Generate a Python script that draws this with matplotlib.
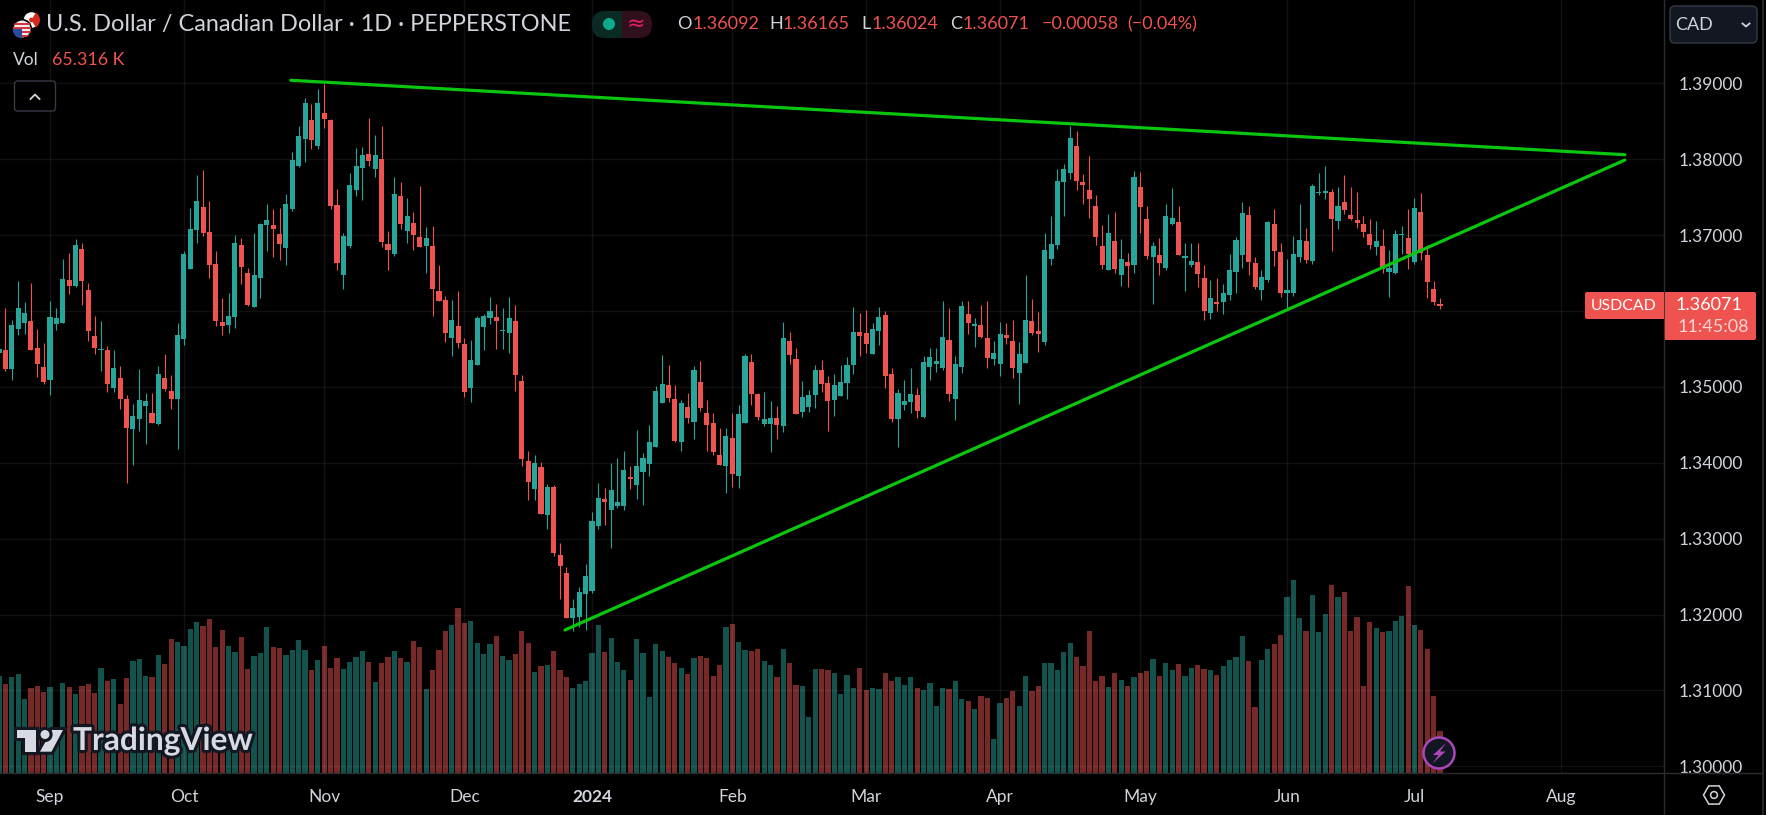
import numpy as np
import matplotlib
matplotlib.use("Agg")
import matplotlib.pyplot as plt
from matplotlib.patches import Circle, FancyBboxPatch, Polygon, Rectangle, Wedge
import matplotlib.patheffects as pe

plt.rcParams["font.family"] = ["Lato", "DejaVu Sans"]

# -------- Daily candles, USDCAD, prices in 1e-5 --------
opens = [
    135443,135491,135241,135767,135846,135872,135517,135267,135096,135833,
    135846,136412,136333,136820,136280,135675,135482,135491,134991,135122,
    134846,134451,134583,134754,134649,134517,135122,134951,134846,135636,
    136557,137070,137372,137043,136622,135859,135820,135925,136872,136504,
    136057,136438,137136,137136,137017,136833,137346,137912,138267,138517,
    138175,138609,138517,137399,136478,136859,137596,137886,138070,137872,
    138004,136886,136754,137517,137057,137162,136978,136859,136859,136267,
    136149,135649,135807,135570,134991,135293,135793,135912,135925,135732,
    135714,135872,135083,134017,133649,133938,133307,133675,132780,132543,
    131951,131964,132267,132307,133162,133517,133372,133425,133425,133807,
    133701,133872,133978,134201,134793,135030,134846,134267,134741,134543,
    135070,134649,134530,134096,133951,134320,133820,134530,135333,134912,
    134517,134517,134596,134478,135609,135372,134675,134741,134899,135228,
    135057,134833,134886,135057,135293,135728,135714,135438,135741,135951,
    135175,134583,134767,134807,134899,134609,135267,135307,135254,135622,
    134846,135267,135964,135807,135820,135649,135372,135307,135688,135609,
    135188,135320,135872,135741,135597,136689,136873,137702,137820,138175,
    137702,137597,137386,136860,136544,136925,136478,136649,136610,137636,
    137215,136715,136741,136570,137149,137175,136702,136610,136649,136439,
    135978,136110,136123,136215,136518,136741,137268,136636,136281,136412,
    137149,136781,136241,136241,136715,136925,136662,137548,137561,137570,
    137189,137439,137268,137202,137149,137018,136847,136860,136518,136504,
    136996,136965,136649,137307,136741,136294,136092,
]
closes = [
    135500,135241,135820,136043,135978,135491,135307,135070,135925,135912,
    136425,136333,136872,136399,135741,135517,135491,135043,135254,134846,
    134464,134622,134833,134820,134530,135175,134978,134846,135688,136754,
    137083,137451,137030,136609,135872,135807,135938,136899,136583,136083,
    136478,137149,137201,137083,136886,137412,137991,138307,138741,138254,
    138741,138530,137386,136636,136991,137662,137912,138057,137978,138057,
    136912,136807,137543,137149,137254,137004,136846,136964,136293,136136,
    135714,135886,135583,134938,135359,135912,135938,136004,135872,135741,
    135912,135162,134043,133741,133991,133320,133675,132807,132636,131951,
    132083,132293,132504,133228,133530,133478,133636,133478,133899,133780,
    133951,134057,134267,134951,135043,134859,134293,134793,134596,135228,
    134728,134504,134136,133964,134346,133846,134636,135412,134912,134609,
    134583,134596,134504,135649,135425,134636,134872,134899,135228,135043,
    134820,135030,135070,135293,135728,135675,135570,135767,135925,135149,
    134570,134925,134820,134912,134688,135333,135399,135346,135662,134912,
    135307,136070,135846,135833,135662,135386,135451,135701,135649,135254,
    135438,135886,135714,135701,136807,136886,137715,137873,138281,137715,
    137662,137478,136978,136610,137031,136557,136689,136597,137768,137373,
    136728,136860,136636,137254,137228,136741,136715,136662,136491,136004,
    136175,136097,136241,136544,136939,137294,136649,136320,136452,137175,
    136794,136241,136281,136754,136939,136675,137649,137566,137570,137215,
    137386,137333,137215,137162,137044,136873,136925,136557,136570,137018,
    137004,136754,137360,136768,136386,136123,136071,
]
highs = [
    135565,136043,135886,136394,136122,136372,135767,135583,136136,136043,
    136688,136767,136951,136899,136372,135938,135872,135543,135491,135280,
    134899,134780,135241,134925,134925,135280,135438,135162,135846,136793,
    137359,137798,137859,137451,136793,136175,136241,137004,136964,136570,
    137030,137162,137412,137346,137359,137543,138096,138438,138807,138728,
    138925,138986,138526,137609,137030,137820,138153,138162,138543,138320,
    138438,137057,137767,137701,137491,137307,137649,137109,137122,136609,
    136201,136149,136267,135649,135622,135938,135964,136188,136096,136043,
    136188,136083,135162,134149,134096,134004,133714,133701,132938,132622,
    132201,132359,132662,133346,133728,133662,133991,134057,134149,133951,
    134438,134122,134491,135017,135425,135293,135030,134833,134925,135280,
    135346,134833,134649,134464,134464,134649,134767,135438,135438,134925,
    134938,134820,134754,135859,135728,135517,135083,134964,135293,135359,
    135149,135175,135293,135399,136057,135978,136017,135846,136057,136004,
    135254,134978,135096,135254,134991,135412,135517,135517,136136,136043,
    135412,136136,136136,135912,136083,136136,135609,135859,135846,135886,
    135596,136478,136162,135991,137031,137254,137873,137939,138439,138373,
    137807,138044,137531,137136,137281,137307,136952,136768,137847,137833,
    137386,136912,136965,137412,137623,137386,136899,136899,136899,136610,
    136412,136439,136360,136754,136978,137439,137386,136715,136544,137189,
    137347,136899,136689,136991,137412,137097,137675,137820,137912,137610,
    137636,137794,137636,137570,137254,137215,137189,137083,136807,137070,
    137123,137347,137491,137557,136873,136399,136165,
]
lows = [
    135412,135206,135096,135688,135701,135491,135136,135043,134899,135754,
    135846,136228,136320,136083,135609,135438,135214,134938,134938,134714,
    133728,133964,134412,134241,134530,134491,134951,134714,134175,135557,
    136557,136899,136991,136438,135807,135688,135714,135780,136359,136070,
    136057,136175,136793,136706,136675,136609,137320,137899,137964,138136,
    138136,138412,137350,136543,136293,136833,137517,137464,137912,137767,
    136846,136543,136728,137083,136899,136807,136846,136504,135938,136136,
    135596,135412,135517,134872,134807,135293,135491,135833,135504,135504,
    135451,134951,133951,133504,133504,133320,133122,132767,132201,131951,
    131780,131833,131793,132280,133122,133175,132872,133399,133372,133649,
    133517,133438,133820,134201,134793,134807,134280,134149,134530,134307,
    134688,134149,134096,133964,133596,133675,133662,134530,134767,134557,
    134478,134136,134307,134399,135307,134636,134609,134675,134728,134938,
    134412,134622,134886,134846,135175,135412,135451,135438,135557,134991,
    134543,134201,134701,134662,134596,134596,135096,135201,135228,134820,
    134557,135188,135701,135530,135649,135254,135293,135149,135570,135122,
    134780,135320,135688,135464,135557,136610,136820,137254,137741,137597,
    137412,137228,136873,136557,136544,136504,136333,136320,136504,137031,
    136689,136097,136478,136544,137136,136741,136268,136583,136320,135886,
    135899,136004,135965,136149,136241,136570,136478,136294,136149,136386,
    136597,136189,136018,136202,136649,136636,136623,137531,137478,136794,
    137083,137281,137202,137097,136978,136820,136741,136504,136189,136491,
    136754,136557,136623,136675,136175,136083,136024,
]

# -------- Volume in thousands, same bars --------
volumes = [
    151,138,149,154,115,132,135,126,134,51,
    140,134,123,135,138,124,163,143,146,107,
    148,174,177,151,149,183,169,208,204,197,
    224,235,228,239,196,222,197,188,211,162,
    182,186,227,196,194,183,191,207,191,160,
    176,197,163,179,162,172,180,190,172,141,
    171,180,190,179,172,205,196,131,160,191,
    221,230,256,233,236,202,185,200,213,182,
    176,185,221,202,157,166,168,190,160,150,
    132,138,143,186,230,188,210,172,160,145,
    208,186,118,200,190,180,171,163,154,179,
    182,179,151,168,227,232,204,191,190,193,
    174,168,149,193,171,137,135,87,162,162,
    160,155,123,152,132,163,129,132,131,155,
    143,149,137,149,132,129,140,104,132,131,
    143,115,112,99,120,117,53,109,117,127,
    104,151,127,135,171,171,160,188,202,180,
    166,221,143,151,134,155,145,135,149,155,
    159,177,151,171,160,169,151,163,168,162,
    160,152,166,176,180,213,174,103,176,193,
    200,214,273,300,241,221,277,219,247,292,
    273,281,221,242,135,235,225,219,221,236,
    244,291,230,222,193,120,65.316,
]

# -------- Axis labels and drawn trend lines --------
price_ticks = [1.30, 1.31, 1.32, 1.33, 1.34, 1.35, 1.36, 1.37, 1.38, 1.39]
# the 1.36000 label is hidden behind the last price tag in the chart
price_tick_labels = ["1.30000", "1.31000", "1.32000", "1.33000", "1.34000", "1.35000", "",
                     "1.37000", "1.38000", "1.39000"]
month_labels = ["Sep", "Oct", "Nov", "Dec", "2024", "Feb", "Mar", "Apr", "May", "Jun", "Jul", "Aug"]
month_bars = [8, 29, 51, 73, 93, 115, 136, 157, 179, 202, 222, 245]
upper_trend_bars = [45.76, 255.0]
upper_trend_prices = [1.3904, 1.38059]
lower_trend_bars = [88.76, 255.0]
lower_trend_prices = [1.31796, 1.37989]

UP = "#26a69a"
DOWN = "#ef5350"
TEXT = "#d1d4dc"
GREEN = "#0bc60f"
FRAME = "#2a2c31"
W, H = 1766, 815
PANE_R, PANE_B = 1664.3, 773.0

fig = plt.figure(figsize=(W / 100, H / 100), dpi=100, facecolor="#000000")
pane = [0, 1 - PANE_B / H, PANE_R / W, PANE_B / H]

bars = np.arange(len(opens))
o = np.array(opens) / 1e5
c = np.array(closes) / 1e5
hi = np.array(highs) / 1e5
lo = np.array(lows) / 1e5
is_up = c >= o
colors = np.where(is_up, UP, DOWN)

# -------- Volume pane (underneath) --------
ax_vol = fig.add_axes(pane, facecolor="#000000", zorder=1)
ax_vol.bar(bars, volumes, width=0.82, color=colors, alpha=0.5, linewidth=0)
ax_vol.set_ylim(0, PANE_B * 1.555)
ax_vol.set_xticks([])
ax_vol.set_yticks([])

# -------- Price pane --------
ax = fig.add_axes(pane, facecolor="none", zorder=2)
wicks = ax.vlines(bars, lo, hi, colors=colors, linewidth=0.8, zorder=3)
wicks.set_snap(True)
ax.bar(bars, np.maximum(np.abs(c - o), 0.00016), bottom=np.minimum(o, c), width=0.8,
       color=colors, linewidth=0, zorder=4)
ax.plot(upper_trend_bars, upper_trend_prices, color=GREEN, linewidth=2.3, zorder=5, solid_capstyle="round")
ax.plot(lower_trend_bars, lower_trend_prices, color=GREEN, linewidth=2.3, zorder=5, solid_capstyle="round")

for a in (ax, ax_vol):
    a.set_xlim(1 - 5.4 / 6.376, 1 + (PANE_R - 5.4) / 6.376)
ax.set_ylim(1.39 - (PANE_B - 83.3) / 7589, 1.39 + 83.3 / 7589)

ax.set_yticks(price_ticks)
ax.set_yticklabels(price_tick_labels)
ax.yaxis.tick_right()
ax.set_xticks(month_bars)
ax.set_xticklabels(month_labels)
ax.grid(True, color="#ffffff", alpha=0.07, linewidth=1.0, zorder=0)
ax.set_axisbelow(True)
ax.tick_params(axis="both", length=0, colors=TEXT, labelsize=12.5)
ax.tick_params(axis="y", pad=10)
ax.tick_params(axis="x", pad=11.5)
for label_obj in ax.get_xticklabels():
    if label_obj.get_text() == "2024":
        label_obj.set_fontweight("bold")
for a in (ax, ax_vol):
    for s in a.spines.values():
        s.set_visible(False)

# -------- Chart chrome, in pixel coordinates --------
ui = fig.add_axes([0, 0, 1, 1], facecolor="none", zorder=3)
ui.set_xlim(0, W)
ui.set_ylim(H, 0)
ui.axis("off")

ui.plot([PANE_R, PANE_R], [0, H], color=FRAME, linewidth=1)
ui.plot([0, 1763], [PANE_B, PANE_B], color=FRAME, linewidth=1)
ui.plot([1763, 1763], [0, H], color=FRAME, linewidth=1.2)


def label(x, y, text, color=TEXT, size=12.5, ha="left", **kw):
    return ui.text(x, y, text, color=color, fontsize=size, ha=ha, va="center", **kw)


def round_box(x0, y0, x1, y1, r, fc, ec="none", lw=1.0, z=2):
    ui.add_patch(FancyBboxPatch((x0 + r, y0 + r), x1 - x0 - 2 * r, y1 - y0 - 2 * r,
                                boxstyle=f"round,pad={r},rounding_size={r}",
                                fc=fc, ec=ec, lw=lw, zorder=z))


# flags
ui.add_patch(Circle((31.5, 20), 8.5, fc="#f8f8f8", ec="#000000", lw=1, zorder=2))
ui.add_patch(Wedge((31.5, 20), 8.5, 300, 60, fc="#d52b1e", zorder=2))
ui.add_patch(Circle((31.5, 20), 2.4, fc="#d52b1e", zorder=2))
ui.add_patch(Circle((22, 29), 9.3, fc="#ececec", ec="#000000", lw=1.2, zorder=3))
for yy in (24, 28, 32, 36):
    ui.add_patch(Rectangle((13.4, yy - 1), 17.2, 2, fc="#d8323c",
                           clip_path=Circle((22, 29), 9.3, transform=ui.transData), zorder=3))
ui.add_patch(Wedge((22, 29), 9.3, 90, 180, fc="#2b4b9b", zorder=4))

label(46, 25, "U.S. Dollar / Canadian Dollar · 1D · PEPPERSTONE", size=16.9)
label(13, 60, "Vol", size=12.5)
label(52, 60, "65.316 K", color=DOWN, size=12.8)

# collapse button
round_box(14.5, 81, 55.5, 111, 3, "#000000", ec="#363a45")
ui.plot([30.5, 35, 39.5], [99, 94.5, 99], color=TEXT, linewidth=1.3)

# market status pill
round_box(592, 11, 640, 38, 13, "#0a2a24")
round_box(612, 11, 652, 38, 13, "#30101c")
ui.add_patch(Rectangle((610, 11), 12, 27, fc="#0a2a24", zorder=3))
ui.add_patch(Circle((609, 24), 6, fc="#12a88c", zorder=4))
label(636, 24, "≈", color="#e91e63", size=16, ha="center", zorder=4, family=["DejaVu Sans"])

# OHLC legend
label(677, 24, "O", size=13)
label(693, 24, "1.36092", color=DOWN, size=13)
label(769, 24, "H", size=13)
label(783, 24, "1.36165", color=DOWN, size=13)
label(861, 24, "L", size=13)
label(872, 24, "1.36024", color=DOWN, size=13)
label(950, 24, "C", size=13)
label(963, 24, "1.36071", color=DOWN, size=13)
label(1042, 24, "−0.00058", color=DOWN, size=13)
label(1127, 24, "(−0.04%)", color=DOWN, size=13)

# currency button
round_box(1670, 6, 1757, 43, 5, "#131722", ec="#363a45")
label(1675, 25, "CAD", size=13, zorder=4)
ui.plot([1742.5, 1746, 1749.5], [23.5, 26.5, 23.5], color=TEXT, linewidth=1.3, zorder=4)

# last price tags
round_box(1585, 292, 1664, 319, 2, DOWN)
ui.add_patch(Rectangle((1660, 292), 4, 27, fc=DOWN, zorder=2))
round_box(1664.8, 292, 1756, 340, 2, DOWN)
ui.add_patch(Rectangle((1664.8, 292), 6, 48, fc=DOWN, zorder=2))
label(1623.5, 305.5, "USDCAD", color="#ffffff", size=11.4, ha="center", zorder=3)
label(1709, 305.5, "1.36071", color="#ffffff", size=13, ha="center", zorder=3)
label(1713, 327, "11:45:08", color="#fbd5d4", size=13, ha="center", zorder=3)

# settings hexagon
ang = np.deg2rad(np.arange(0, 360, 60))
ui.add_patch(Polygon(np.c_[1714 + 10.5 * np.cos(ang), 795 + 10.5 * np.sin(ang)], fc="none",
                     ec=TEXT, lw=1.1, zorder=2))
ui.add_patch(Circle((1714, 795), 3.4, fc="none", ec=TEXT, lw=1.1, zorder=2))

# lightning badge
ui.add_patch(Circle((1439, 753), 15.5, fc="#131722", ec="#ab47bc", lw=1.8, zorder=3))
ui.add_patch(Polygon([(1446, 743), (1433, 755), (1438.5, 755), (1432.5, 763.5), (1445.5, 751.5), (1440, 751.5)],
                     fc="#ab47bc", ec="none", zorder=4))

# TradingView mark
outline = [pe.withStroke(linewidth=4.5, foreground="#131722")]
mark = "#d8dae3"
for poly in ([(17.2, 730), (36.4, 730), (36.4, 751.7), (25, 751.7), (25, 738.3), (17.2, 738.3)],
             [(52, 730), (63, 730), (51.5, 751.7), (40, 751.7)]):
    p = Polygon(poly, fc=mark, ec="none", zorder=3)
    p.set_path_effects([pe.Stroke(linewidth=4.5, foreground="#131722"), pe.Normal()])
    ui.add_patch(p)
dot = Circle((45, 734.5), 4.5, fc=mark, ec="none", zorder=3)
dot.set_path_effects([pe.Stroke(linewidth=4.5, foreground="#131722"), pe.Normal()])
ui.add_patch(dot)
label(73, 740.5, "TradingView", color=mark, size=22.8, fontweight="bold", zorder=3, path_effects=outline)

fig.savefig("out.png", dpi=100, facecolor=fig.get_facecolor())
